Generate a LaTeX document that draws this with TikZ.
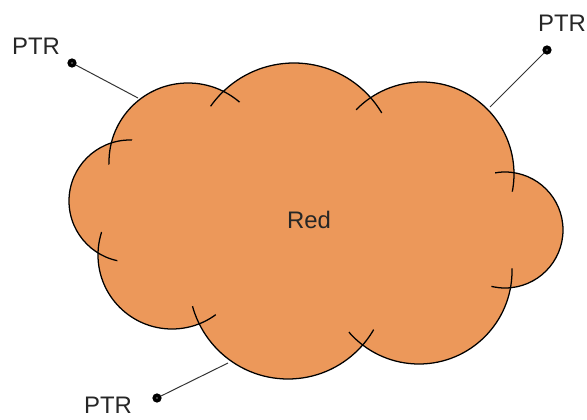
\documentclass[tikz,border=0pt]{standalone}
\usepackage{fontspec}
\setmainfont{Liberation Sans}
\usetikzlibrary{calc}

\definecolor{cloudfill}{RGB}{236,152,90}
\newcommand{\cloudbumps}{188/162/79, 294/165/102, 422/174/92, 505/230/58,
  419/271/93, 288/280/99, 172/255/74, 130/201/61}

\begin{document}
\begin{tikzpicture}
  [x = 0.025cm, y = -0.025cm,
   every node/.style = {font=\fontsize{17}{20}\selectfont, text=black!85,
                        inner sep=1pt},
   ptrdot/.style = {circle, draw, fill=white, line width=2.6pt,
                    minimum size=3.8pt, inner sep=0pt},
   ptrline/.style = {draw=black!80, line width=0.7pt}]
  \useasboundingbox (0, 0) rectangle (587, 420);

  % cloud
  \foreach \cx/\cy/\r in \cloudbumps
    \fill [cloudfill] (\cx, \cy) circle [radius=\r];
  \foreach \cx/\cy/\r in \cloudbumps
    \draw [line width=0.9pt] (\cx, \cy) circle [radius=\r];
  \foreach \cx/\cy/\r in \cloudbumps
    \fill [cloudfill] (\cx, \cy) circle [radius=\r-19];
  \fill [cloudfill] (300, 220) ellipse [x radius=140, y radius=75];

  \node (red) at (309, 220) {Red};

  \coordinate (edge-tl) at (138, 98);
  \coordinate (edge-tr) at (490, 107);
  \coordinate (edge-b) at (228, 363);

  \node [ptrdot] (dot-tl) at (72, 63) {};
  \node [ptrdot] (dot-tr) at (547, 50) {};
  \node [ptrdot] (dot-b) at (157, 398) {};

  \node (ptr-tl) at (36, 46) {PTR};
  \node (ptr-tr) at (562, 23) {PTR};
  \node (ptr-b) at (108, 405) {PTR};

  \draw [ptrline] (dot-tl) -- (edge-tl);
  \draw [ptrline] (dot-tr) -- (edge-tr);
  \draw [ptrline] (dot-b) -- (edge-b);
\end{tikzpicture}
\end{document}
